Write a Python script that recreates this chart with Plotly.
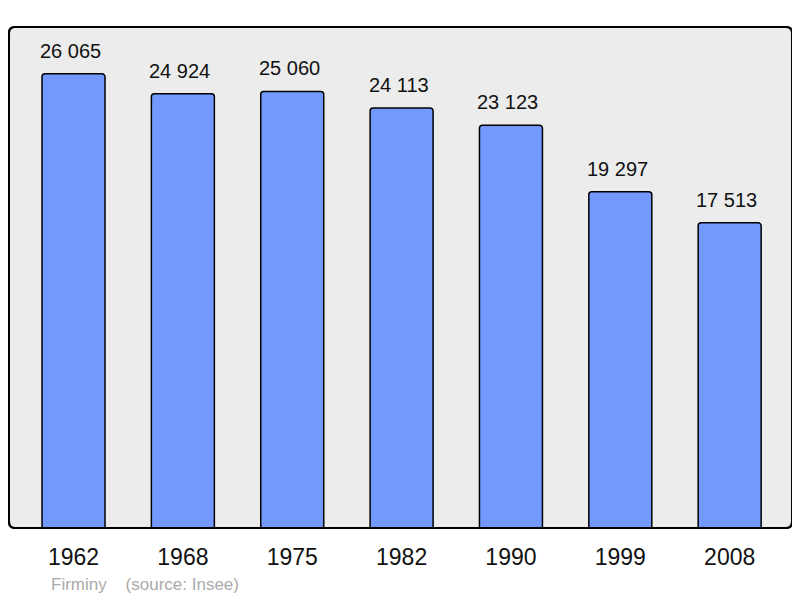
import plotly.graph_objects as go

years = ["1962", "1968", "1975", "1982", "1990", "1999", "2008"]
population = [26065, 24924, 25060, 24113, 23123, 19297, 17513]
labels = ["26 065", "24 924", "25 060", "24 113", "23 123", "19 297", "17 513"]

# page body has an 8px margin; figure sized to fill the rest of the window
OFF = 8
W, H = 800 - OFF, 598 - OFF
ml, mt = 9 - OFF, 27 - OFF
mr = W - (792 - OFF)
mb = H - (528 - OFF)
pw, ph = W - ml - mr, H - mt - mb

FONT = "Liberation Sans, Arial, sans-serif"

fig = go.Figure()
fig.add_trace(go.Bar(
    x=list(range(len(years))), y=population, width=0.576,
    marker=dict(color="#7399ff", line=dict(color="#000000", width=1.5), cornerradius=3),
    hoverinfo="skip",
))

for i, (v, t) in enumerate(zip(population, labels)):
    fig.add_annotation(x=i, y=v, text=t, showarrow=False, yanchor="bottom",
                       yshift=10, xshift=-3,
                       font=dict(size=20, color="#111111", family=FONT))

# rounded background rectangle
r = 6
rx, ry = r / pw, r / ph
path = (f"M {rx} 0 L {1-rx} 0 Q 1 0 1 {ry} L 1 {1-ry} Q 1 1 {1-rx} 1 "
        f"L {rx} 1 Q 0 1 0 {1-ry} L 0 {ry} Q 0 0 {rx} 0 Z")
fig.add_shape(type="path", path=path, xref="paper", yref="paper",
              fillcolor="#ececec", line=dict(color="#000000", width=2), layer="below")
fig.add_shape(type="path", path=path, xref="paper", yref="paper",
              fillcolor="rgba(0,0,0,0)", line=dict(color="#000000", width=2), layer="above")

fig.add_annotation(x=(49 - 9) / pw, y=-(584 - 528) / ph, xref="paper", yref="paper",
                   text="Firminy&nbsp;&nbsp;&nbsp;&nbsp;(source: Insee)", showarrow=False,
                   xanchor="left", yanchor="middle",
                   font=dict(size=17, color="#aaaaaa", family=FONT))

fig.update_layout(
    width=W, height=H,
    margin=dict(l=ml, r=mr, t=mt, b=mb, autoexpand=False),
    paper_bgcolor="#ffffff", plot_bgcolor="rgba(0,0,0,0)",
    showlegend=False,
    font=dict(family=FONT, color="#000000"),
    xaxis=dict(range=[-0.59, 6.57], tickmode="array", tickvals=list(range(len(years))),
               ticktext=years, showgrid=False, zeroline=False, showline=False,
               ticks="", ticklabelstandoff=13, tickfont=dict(size=23, color="#111111"),
               fixedrange=True),
    yaxis=dict(range=[0, 28755], showgrid=False, zeroline=False, showline=False,
               showticklabels=False, ticks="", fixedrange=True),
)

fig.write_html("out.html")
